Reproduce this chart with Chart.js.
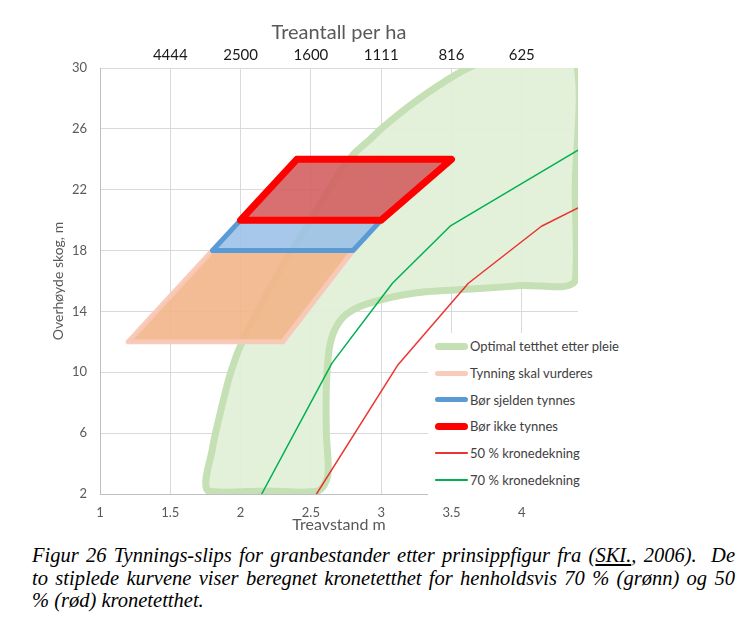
<!DOCTYPE html>
<html>
<head>
<meta charset="utf-8">
<script src="https://cdn.jsdelivr.net/npm/chart.js@4.4.1/dist/chart.umd.min.js"></script>
<style>
  body { margin: 0; background: #fff; }
  #wrap { position: relative; width: 740px; height: 620px; overflow: hidden; }
  #chartBox { position: absolute; left: 0; top: 0; width: 740px; height: 540px; }
  #legend {
    position: absolute; left: 428px; top: 333px; width: 210px; height: 165px;
    background: #fff; font-family: Lato, sans-serif; font-size: 13px; color: #404040;
  }
  #legend .row { height: 26.7px; display: flex; align-items: center; white-space: nowrap; }
  #legend .sw { width: 33px; margin-left: 7px; margin-right: 2px; }
  #caption {
    position: absolute; left: 32px; top: 544px; width: 703px;
    font-family: "Liberation Serif", "Times New Roman", serif; font-style: italic;
    font-size: 20.5px; line-height: 22.5px; color: #000;
  }
  #caption div { white-space: nowrap; }
  #caption .j { text-align: justify; text-align-last: justify; }
</style>
</head>
<body>
<div id="wrap">
  <div id="chartBox"><canvas id="slipsChart" width="740" height="540"></canvas></div>
  <div id="legend"></div>
  <div id="caption">
    <div class="j">Figur 26 Tynnings-slips for granbestander etter prinsippfigur fra (<u>SKI.</u>, 2006).&nbsp; De</div>
    <div class="j">to stiplede kurvene viser beregnet kronetetthet for henholdsvis 70 % (grønn) og 50</div>
    <div>% (rød) kronetetthet.</div>
  </div>
</div>
<script>
// ---------- data (treavstand m, overhøyde m) ----------
const topLabels = ["", "4444", "2500", "1600", "1111", "816", "625"];

// optimal tetthet etter pleie (closed band, top edge runs just above the plot)
const optimal = [
  [2.2, 2.2], [1.77, 2.2], [1.8, 5], [1.86, 7.5], [1.93, 10], [2.02, 12.2],
  [2.15, 14.5], [2.3, 17], [2.5, 20], [2.68, 22.8], [2.8, 24.3], [2.92, 25.3],
  [3.0, 26.0], [3.2, 27.5], [3.45, 29.1], [3.7, 30.3], [4.1, 30.6],
  [4.38, 30.6], [4.38, 22], [4.38, 16.0], [4.0, 15.7], [3.7, 15.5],
  [3.23, 15.2], [2.9, 14.5], [2.75, 13.8], [2.67, 12.8], [2.63, 11.5],
  [2.61, 9], [2.61, 6], [2.62, 3.2], [2.55, 2.2], [2.2, 2.2]
];
const tynning = [[1.2, 12], [2.3, 12], [2.8, 18], [1.8, 18], [1.2, 12]];
const sjelden = [[1.8, 18], [2.8, 18], [3.0, 20], [2.0, 20], [1.8, 18]];
const ikke = [[2.0, 20], [3.0, 20], [3.5, 24], [2.4, 24], [2.0, 20]];
const krone50 = [[2.54, 2], [3.12, 10.5], [3.62, 15.85], [4.14, 19.6], [4.4, 20.8]];
const krone70 = [[2.15, 2], [2.65, 10.6], [3.08, 15.85], [3.49, 19.6], [4.4, 24.6]];

const toPts = (arr) => arr.map(([x, y]) => ({ x, y }));
const FONT = "Lato";

const datasets = [
  {
    label: "Optimal tetthet etter pleie",
    data: toPts(optimal),
    borderColor: "#c5e0b4",
    backgroundColor: "rgba(226,240,217,0.95)",
    borderWidth: 7,
    fill: "shape",
    tension: 0.3,
    order: 6
  },
  {
    label: "Tynning skal vurderes",
    data: toPts(tynning),
    borderColor: "rgba(248,200,182,0.95)",
    backgroundColor: "rgba(243,181,137,0.9)",
    borderWidth: 5,
    fill: "shape",
    order: 5
  },
  {
    label: "Bør sjelden tynnes",
    data: toPts(sjelden),
    borderColor: "#5b9bd5",
    backgroundColor: "rgba(155,192,231,0.88)",
    borderWidth: 5,
    fill: "shape",
    order: 4
  },
  {
    label: "Bør ikke tynnes",
    data: toPts(ikke),
    borderColor: "#ff0000",
    backgroundColor: "rgba(211,92,94,0.88)",
    borderWidth: 7,
    fill: "shape",
    order: 3
  },
  {
    label: "50 % kronedekning",
    data: toPts(krone50),
    borderColor: "rgba(235,30,30,0.9)",
    borderWidth: 1.5,
    fill: false,
    order: 2
  },
  {
    label: "70 % kronedekning",
    data: toPts(krone70),
    borderColor: "#00b050",
    borderWidth: 1.5,
    fill: false,
    order: 1
  }
];

const chart = new Chart(document.getElementById("slipsChart").getContext("2d"), {
  type: "line",
  data: { datasets },
  options: {
    responsive: false,
    animation: false,
    layout: { padding: { left: 0, right: 162, top: 0, bottom: 0 } },
    elements: {
      point: { radius: 0, hoverRadius: 0 },
      line: { tension: 0, borderJoinStyle: "round", borderCapStyle: "round" }
    },
    plugins: {
      legend: { display: false },
      tooltip: { enabled: false }
    },
    scales: {
      x: {
        type: "linear",
        position: "bottom",
        min: 1,
        max: 4.4,
        ticks: {
          stepSize: 0.5,
          includeBounds: false,
          padding: 11,
          maxRotation: 0,
          autoSkip: false,
          color: "#595959",
          font: { family: FONT, size: 13 },
          callback: (v) => String(v)
        },
        grid: { color: "#d9d9d9", drawTicks: false },
        border: { color: "#bfbfbf" },
        title: {
          display: true,
          text: "Treavstand m",
          color: "#595959",
          font: { family: FONT, size: 16 },
          padding: { top: 0, bottom: 6 }
        },
        afterFit: (s) => { s.height = 46; }
      },
      x2: {
        type: "linear",
        position: "top",
        min: 1,
        max: 4.4,
        ticks: {
          stepSize: 0.5,
          includeBounds: false,
          padding: 4,
          maxRotation: 0,
          autoSkip: false,
          color: "#1a1a1a",
          font: { family: FONT, size: 15 },
          callback: (v, i) => topLabels[i] || ""
        },
        grid: { display: false, drawTicks: false },
        border: { display: false },
        title: {
          display: true,
          text: "Treantall per ha",
          color: "#595959",
          font: { family: FONT, size: 20 },
          padding: { top: 21, bottom: 0 }
        },
        afterFit: (s) => { s.height = 68; }
      },
      y: {
        type: "linear",
        min: 2,
        max: 30,
        ticks: {
          stepSize: 4,
          padding: 13,
          color: "#595959",
          font: { family: FONT, size: 13 }
        },
        grid: { color: "#d9d9d9", drawTicks: false },
        border: { color: "#bfbfbf" },
        title: {
          display: true,
          text: "Overhøyde skog, m",
          color: "#595959",
          font: { family: FONT, size: 14 },
          padding: { top: 50, bottom: 0 }
        },
        afterFit: (s) => { s.width = 100; }
      }
    }
  }
});

// ---------- legend (inside plot, bottom right) ----------
const legendBox = document.getElementById("legend");
chart.data.datasets.forEach((ds) => {
  const row = document.createElement("div");
  row.className = "row";
  const sw = document.createElement("span");
  sw.className = "sw";
  sw.style.height = ds.borderWidth + "px";
  sw.style.borderRadius = ds.borderWidth / 2 + "px";
  sw.style.background = ds.borderColor;
  const txt = document.createElement("span");
  txt.textContent = ds.label;
  row.appendChild(sw);
  row.appendChild(txt);
  legendBox.appendChild(row);
});
</script>
</body>
</html>
